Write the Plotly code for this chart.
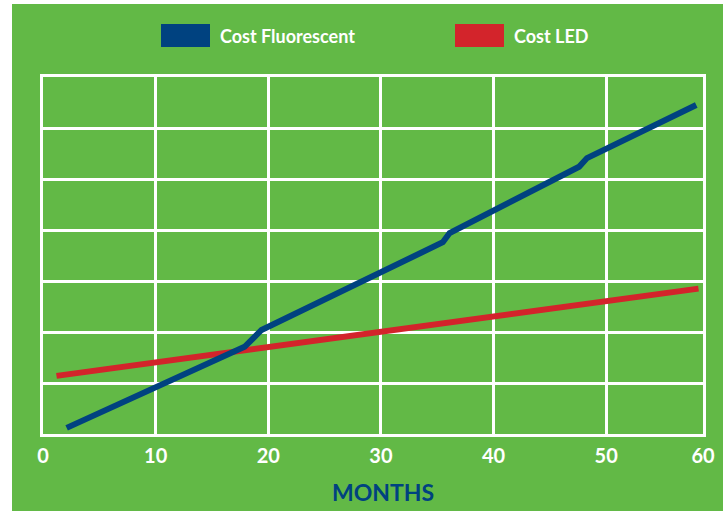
import plotly.graph_objects as go

# Data
months_fluorescent = [2.1, 17.9, 19.4, 35.5, 36.1, 47.6, 48.3, 58.0]
cost_fluorescent = [0.12, 1.71, 2.04, 3.76, 3.94, 5.24, 5.41, 6.45]
months_led = [1.2, 58.2]
cost_led = [1.14, 2.85]

x_tickvals = [0, 10, 20, 30, 40, 50, 58.6]
x_ticktext = ["0", "10", "20", "30", "40", "50", "60"]

GREEN = "#62b946"
BLUE = "#004280"
RED = "#d3242b"
FONT = "Lato"

fig = go.Figure()
fig.add_trace(go.Scatter(x=months_led, y=cost_led, mode="lines",
                         line=dict(color=RED, width=6), name="Cost LED",
                         showlegend=False))
fig.add_trace(go.Scatter(x=months_fluorescent, y=cost_fluorescent, mode="lines",
                         line=dict(color=BLUE, width=6), name="Cost Fluorescent",
                         showlegend=False))

# plot area in pixels: left 43, right 703, top 77, bottom 434
L, R, T, B = 43, 703, 77, 434
def px(x):
    return (x - L) / (R - L)
def py(y):
    return (B - y) / (B - T)

shapes = [
    dict(type="rect", xref="paper", yref="paper", x0=px(12), x1=px(723), y0=py(4), y1=py(512),
         fillcolor=GREEN, line=dict(width=0), layer="below"),
    dict(type="rect", xref="paper", yref="paper", x0=px(161), x1=px(210), y0=py(47), y1=py(24),
         fillcolor=BLUE, line=dict(width=0)),
    dict(type="rect", xref="paper", yref="paper", x0=px(455), x1=px(504), y0=py(47), y1=py(24),
         fillcolor=RED, line=dict(width=0)),
]
annotations = [
    dict(text="Cost Fluorescent", xref="paper", yref="paper", x=px(218), y=py(36),
         xanchor="left", yanchor="middle", showarrow=False,
         font=dict(family=FONT, size=18, color="white", weight="bold")),
    dict(text="Cost LED", xref="paper", yref="paper", x=px(512), y=py(36),
         xanchor="left", yanchor="middle", showarrow=False,
         font=dict(family=FONT, size=18, color="white", weight="bold")),
    dict(text="MONTHS", xref="paper", yref="paper", x=px(383), y=py(492),
         xanchor="center", yanchor="middle", showarrow=False,
         font=dict(family=FONT, size=23, color=BLUE, weight="bold")),
]

fig.update_layout(
    width=726, height=511,
    margin=dict(l=L, r=726 - R, t=T, b=511 - B),
    paper_bgcolor="white",
    plot_bgcolor=GREEN,
    shapes=shapes,
    annotations=annotations,
    xaxis=dict(range=[0, 58.6], tickvals=x_tickvals, ticktext=x_ticktext,
               showgrid=True, gridcolor="white", gridwidth=2.5, zeroline=False,
               showline=True, mirror=True, linecolor="white", linewidth=3,
               tickfont=dict(family=FONT, size=20, color="white", weight="bold"),
               ticks="", ticklabelstandoff=2, fixedrange=True),
    yaxis=dict(range=[0, 7], dtick=1, showticklabels=False,
               showgrid=True, gridcolor="white", gridwidth=2.5, zeroline=False,
               showline=True, mirror=True, linecolor="white", linewidth=3,
               ticks="", fixedrange=True),
    showlegend=False,
)

fig.write_html("out.html",
               config={"displayModeBar": False},
               post_script="document.body.style.margin='0';document.body.style.overflow='hidden';")
